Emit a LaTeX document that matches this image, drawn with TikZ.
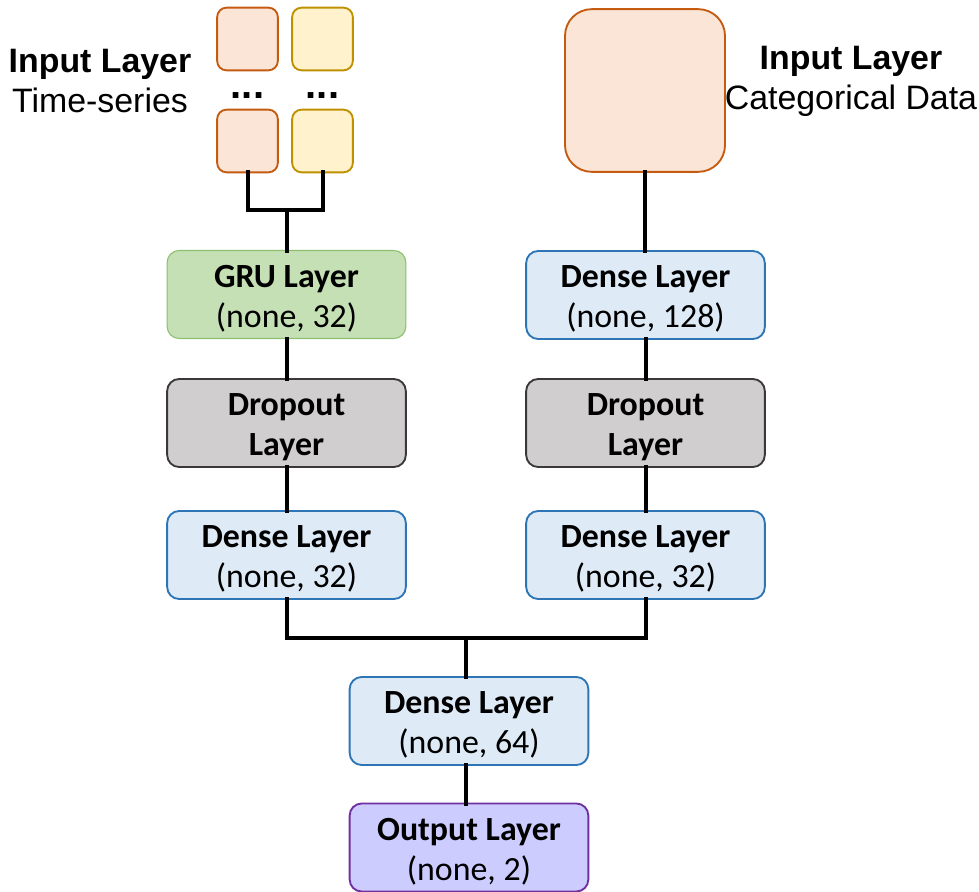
\documentclass[tikz,border=0pt]{standalone}
\usepackage{fontspec}
\setmainfont{Carlito}
\newfontfamily\arialfont{Liberation Sans}
\begin{document}
\begin{tikzpicture}[x=0.75pt,y=-0.75pt,
  wire/.style={line width=3pt,line join=miter,line cap=rect},
  layer/.style={draw,line width=1.4pt,rounded corners=9pt,minimum width=179pt,minimum height=66pt,
    inner sep=0pt,outer sep=0pt},
  layertext/.style={align=center,inner sep=0pt,font=\fontsize{25.4}{30}\selectfont,yshift=-3.2pt},
  cell/.style={draw,line width=1.4pt,rounded corners=7pt,minimum width=45.5pt,minimum height=47pt,inner sep=0pt,outer sep=0pt},
  orangecell/.style={cell,fill=orfill,draw=ordraw},
  yellowcell/.style={cell,fill=yefill,draw=yedraw},
  grulayer/.style={layer,fill=grfill,draw=grdraw,line width=0.8pt},
  denselayer/.style={layer,fill=blfill,draw=bldraw},
  droplayer/.style={layer,fill=gyfill,draw=gydraw},
  outlayer/.style={layer,fill=pufill,draw=pudraw},
  inlabel/.style={align=center,font=\arialfont\fontsize{25.4}{30}\selectfont,inner sep=0pt},
  dots/.style={font=\arialfont\bfseries\fontsize{30}{30}\selectfont,inner sep=0pt}
]
\definecolor{orfill}{HTML}{FBE5D6}
\definecolor{ordraw}{HTML}{C55A11}
\definecolor{yefill}{HTML}{FFF2CC}
\definecolor{yedraw}{HTML}{BF9000}
\definecolor{grfill}{HTML}{C5E0B4}
\definecolor{grdraw}{HTML}{8CBF6E}
\definecolor{blfill}{HTML}{DEEBF7}
\definecolor{bldraw}{HTML}{2E75B6}
\definecolor{gyfill}{HTML}{D0CECE}
\definecolor{gydraw}{HTML}{3B3838}
\definecolor{pufill}{HTML}{CCCCFF}
\definecolor{pudraw}{HTML}{7030A0}

\useasboundingbox (0,0) rectangle (979,892);

% time-series input cells
\node[orangecell] (o1) at (247.5,39) {};
\node[yellowcell] (y1) at (322.5,39) {};
\node[orangecell] (o2) at (247.5,141) {};
\node[yellowcell] (y2) at (322.5,141) {};
\node[dots] (d1) at (247.5,96) {...};
\node[dots] (d2) at (322.5,96) {...};

% categorical input
\node[draw=ordraw,fill=orfill,line width=1.4pt,rounded corners=20pt,minimum width=120pt,minimum height=122pt,inner sep=0pt,outer sep=0pt] (cat) at (645,90.5) {};

% side labels
\node[inlabel] (lts) at (100,81) {\textbf{Input Layer}\\Time-series};
\node[inlabel] (lcat) at (851,81) {\textbf{Input Layer}\\Categorical Data};

% layers
\node[grulayer,label={[layertext]center:{\textbf{GRU Layer}\\(none, 32)}}] (gru) at (286.5,294.5) {};
\node[denselayer,label={[layertext]center:{\textbf{Dense Layer}\\(none, 128)}}] (d128) at (645.5,295) {};
\node[droplayer,label={[layertext]center:{\textbf{Dropout}\\\textbf{Layer}}}] (dropl) at (286.5,423) {};
\node[droplayer,label={[layertext]center:{\textbf{Dropout}\\\textbf{Layer}}}] (dropr) at (645.5,423) {};
\node[denselayer,label={[layertext]center:{\textbf{Dense Layer}\\(none, 32)}}] (dl) at (286.5,555) {};
\node[denselayer,label={[layertext]center:{\textbf{Dense Layer}\\(none, 32)}}] (dr) at (645.5,555) {};
\node[denselayer,label={[layertext]center:{\textbf{Dense Layer}\\(none, 64)}}] (d64) at (469,721) {};
\node[outlayer,label={[layertext]center:{\textbf{Output Layer}\\(none, 2)}}] (out) at (469,847.5) {};

% connectors
\coordinate (j1) at (287,210);
\coordinate (j2) at (466,638);
\draw[wire] (o2.south) -- (o2.south |- j1) -- (y2.south |- j1) -- (y2.south);
\draw[wire] (j1) -- (j1 |- gru.north);
\draw[wire] (cat.south) -- (cat.south |- d128.north);
\draw[wire] (gru.south) -- (dropl.north);
\draw[wire] (dropl.south) -- (dl.north);
\draw[wire] (d128.south) -- (dropr.north);
\draw[wire] (dropr.south) -- (dr.north);
\draw[wire] (dl.south) -- (dl.south |- j2) -- (dr.south |- j2) -- (dr.south);
\draw[wire] (j2) -- (j2 |- d64.north);
\draw[wire] (d64.south -| j2) -- (out.north -| j2);
\end{tikzpicture}
\end{document}
